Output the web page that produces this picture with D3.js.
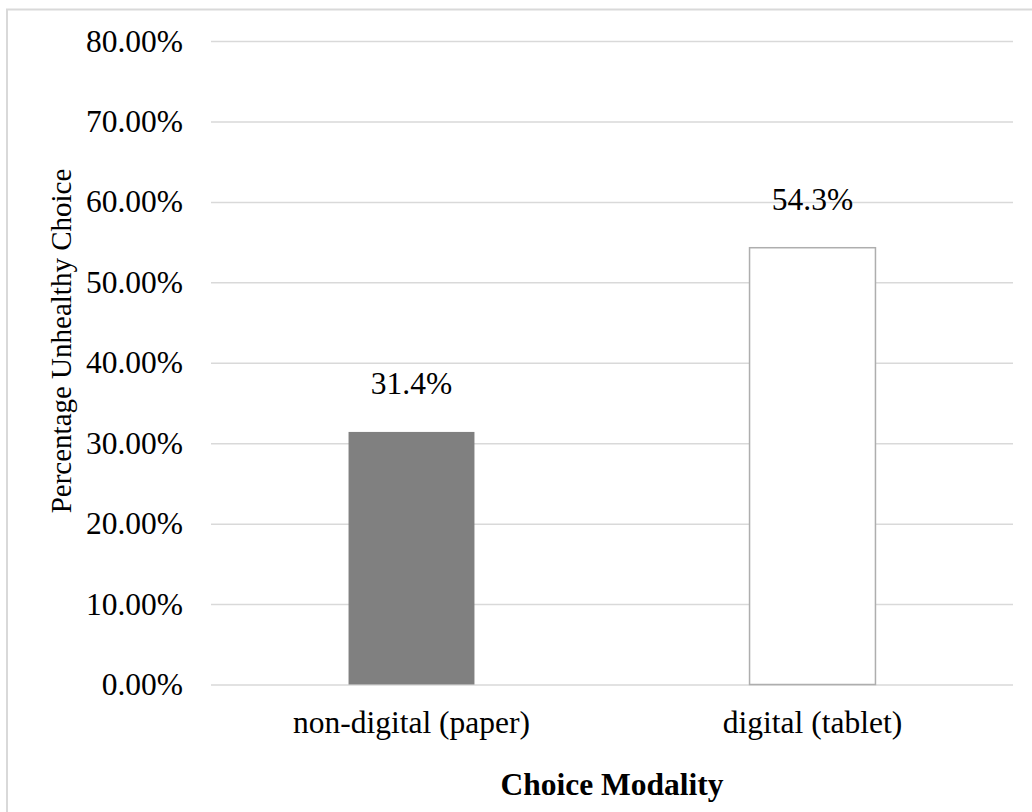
<!DOCTYPE html>
<html>
<head>
<meta charset="utf-8">
<script src="https://cdn.jsdelivr.net/npm/d3@7"></script>
<style>
  html, body { margin: 0; padding: 0; background: #fff; }
  svg { display: block; }
  text { font-family: "Liberation Serif", "Times New Roman", serif; fill: #000; }
</style>
</head>
<body>
<svg id="chart" width="1032" height="812"></svg>
<script>
// Share of unhealthy choices by choice modality
const categories = ["non-digital (paper)", "digital (tablet)"];
const values = [31.4, 54.3];
const valueLabels = ["31.4%", "54.3%"];
const yTicks = [0, 10, 20, 30, 40, 50, 60, 70, 80];

const svg = d3.select("#chart");
const W = 1032, H = 812;
const plot = { left: 211, right: 1013, top: 41, bottom: 684.5 };

// chart frame (runs off the right and bottom edges)
svg.append("rect")
  .attr("x", 7).attr("y", 9.5)
  .attr("width", W + 20).attr("height", H + 20)
  .attr("fill", "none").attr("stroke", "#d9d9d9").attr("stroke-width", 2);

const x = d3.scaleBand()
  .domain(categories)
  .range([plot.left, plot.right])
  .paddingInner(0.686)
  .paddingOuter(0.343);

const y = d3.scaleLinear()
  .domain([0, 80])
  .range([plot.bottom, plot.top]);

// gridlines and value axis labels
const yAxis = d3.axisLeft(y)
  .tickValues(yTicks)
  .tickSize(-(plot.right - plot.left))
  .tickPadding(28)
  .tickFormat(d => d.toFixed(2) + "%");

const gy = svg.append("g")
  .attr("transform", `translate(${plot.left},0)`)
  .call(yAxis)
  .attr("font-size", 31.5);
gy.select(".domain").remove();
gy.selectAll(".tick line").attr("stroke", "#d9d9d9").attr("stroke-width", 1.5);
gy.selectAll(".tick text")
  .attr("fill", "#000")
  .attr("dy", "0.32em");

// bars
svg.append("g").selectAll("rect")
  .data(categories)
  .join("rect")
  .attr("x", d => x(d))
  .attr("y", (d, i) => y(values[i]))
  .attr("width", x.bandwidth())
  .attr("height", (d, i) => y(0) - y(values[i]))
  .attr("fill", (d, i) => i === 0 ? "#808080" : "#ffffff")
  .attr("stroke", (d, i) => i === 0 ? "none" : "#aeaeae")
  .attr("stroke-width", 1.5);

// value labels above the bars
svg.append("g").selectAll("text")
  .data(categories)
  .join("text")
  .attr("x", d => x(d) + x.bandwidth() / 2)
  .attr("y", (d, i) => y(values[i]) - 37.5)
  .attr("text-anchor", "middle")
  .attr("font-size", 31.5)
  .text((d, i) => valueLabels[i]);

// category labels
svg.append("g").selectAll("text")
  .data(categories)
  .join("text")
  .attr("x", d => x(d) + x.bandwidth() / 2)
  .attr("y", 733)
  .attr("text-anchor", "middle")
  .attr("font-size", 31.5)
  .text(d => d);

// axis titles
svg.append("text")
  .attr("x", (plot.left + plot.right) / 2)
  .attr("y", 795)
  .attr("text-anchor", "middle")
  .attr("font-size", 31.5)
  .attr("font-weight", "bold")
  .text("Choice Modality");

svg.append("text")
  .attr("transform", "translate(71,341) rotate(-90)")
  .attr("text-anchor", "middle")
  .attr("font-size", 29)
  .text("Percentage Unhealthy Choice");
</script>
</body>
</html>
